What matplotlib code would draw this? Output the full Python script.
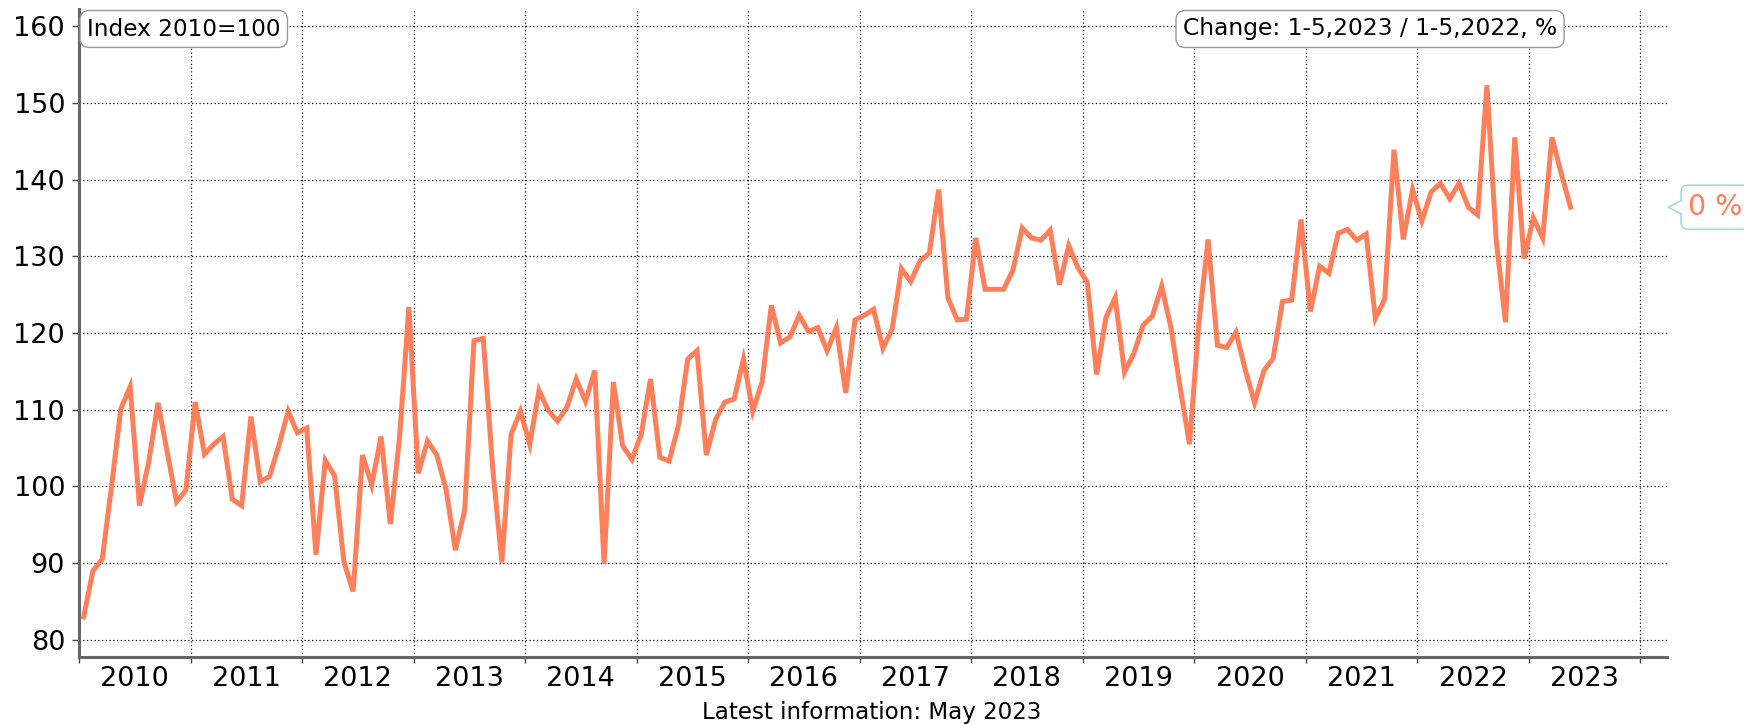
import matplotlib
matplotlib.use("Agg")
import matplotlib.pyplot as plt
from matplotlib.patches import FancyBboxPatch, Polygon
from matplotlib.transforms import IdentityTransform
import numpy as np

# ---- data ----
start_year = 2010
values_2010 = [83.0, 89.0, 90.5, 100.0, 110.1, 113.0, 97.5, 103.2, 110.9, 104.4, 98.0, 99.5]
values_2011 = [111.0, 104.2, 105.5, 106.5, 98.3, 97.5, 109.1, 100.6, 101.3, 105.3, 109.8, 107.0]
values_2012 = [107.6, 91.1, 103.4, 101.4, 90.2, 86.3, 104.1, 100.2, 106.5, 95.1, 106.5, 123.4]
values_2013 = [101.7, 105.9, 104.1, 99.6, 91.7, 96.9, 119.0, 119.3, 102.6, 90.1, 106.8, 109.8]
values_2014 = [105.5, 112.5, 109.9, 108.5, 110.3, 114.0, 111.1, 115.1, 89.9, 113.6, 105.3, 103.5]
values_2015 = [106.8, 114.0, 103.8, 103.3, 107.9, 116.6, 117.7, 104.1, 108.7, 111.0, 111.4, 116.6]
values_2016 = [109.8, 113.6, 123.6, 118.7, 119.5, 122.3, 120.2, 120.7, 117.7, 120.7, 112.2, 121.7]
values_2017 = [122.3, 123.1, 118.0, 120.5, 128.4, 126.7, 129.4, 130.4, 138.7, 124.6, 121.7, 121.8]
values_2018 = [132.4, 125.7, 125.7, 125.7, 128.2, 133.7, 132.4, 132.1, 133.4, 126.3, 131.4, 128.5]
values_2019 = [126.6, 114.6, 122.0, 124.6, 114.9, 117.3, 121.0, 122.2, 126.1, 120.7, 112.8, 105.5]
values_2020 = [121.3, 132.2, 118.4, 118.1, 120.1, 115.2, 110.9, 115.1, 116.7, 124.1, 124.3, 134.8]
values_2021 = [122.8, 128.7, 127.8, 133.0, 133.5, 132.1, 132.9, 121.9, 124.4, 143.9, 132.2, 138.7]
values_2022 = [134.6, 138.4, 139.5, 137.5, 139.5, 136.4, 135.4, 152.3, 132.1, 121.4, 145.5, 129.7]
values_2023 = [135.0, 132.4, 145.5, 140.8, 136.4]

years = list(range(2010, 2024))
year_labels = [str(y) for y in years]
y_ticks = [80, 90, 100, 110, 120, 130, 140, 150, 160]

index_label = "Index 2010=100"
change_label = "Change: 1-5,2023 / 1-5,2022, %"
change_value = "0 %"
footer = "Latest information: May 2023"

values = (values_2010 + values_2011 + values_2012 + values_2013 + values_2014 +
          values_2015 + values_2016 + values_2017 + values_2018 + values_2019 +
          values_2020 + values_2021 + values_2022 + values_2023)
x = np.array([start_year + (i + 0.5) / 12.0 for i in range(len(values))])

# ---- style ----
line_color = "#ff7f5a"
plt.rcParams["font.family"] = ["DejaVu Sans"]

W, H = 1744, 724
fig = plt.figure(figsize=(W / 100, H / 100), dpi=100)
ax = fig.add_axes([79 / W, 1 - 656.7 / H, 1588 / W, (656.7 - 9.3) / H])

ax.plot(x, values, color=line_color, lw=3.6, solid_joinstyle="miter", zorder=3)

ax.set_xlim(2010.0, 2024.24)
ax.set_ylim(77.8, 162.2)

# ticks
ax.set_xticks(list(range(2010, 2025)))
ax.set_xticklabels([])
ax.set_xticks([y + 0.5 for y in years], minor=True)
ax.set_xticklabels(year_labels, minor=True, fontsize=19.5)
ax.tick_params(axis="x", which="major", length=4, width=1, color="#444", direction="out")
ax.tick_params(axis="x", which="minor", length=0, pad=7)
ax.set_yticks(y_ticks)
ax.set_yticklabels([str(v) for v in y_ticks], fontsize=19.5)
ax.tick_params(axis="y", length=5, width=1, color="#444", pad=5)

ax.grid(True, which="major", color="black", lw=0.9, linestyle=(0, (1, 2)))

for s in ["top", "right"]:
    ax.spines[s].set_visible(False)
for s in ["left", "bottom"]:
    ax.spines[s].set_color("#666666")
    ax.spines[s].set_linewidth(2.2)

# boxes
box_style = dict(boxstyle="round,pad=0.3,rounding_size=0.4", fc="white", ec="#9a9a9a", lw=1)
fig.text(87 / W, 1 - 29 / H, index_label, fontsize=16.7, ha="left", va="center",
         bbox=box_style, zorder=5)
fig.text(1183 / W, 1 - 29 / H, change_label, fontsize=16.8, ha="left", va="center",
         bbox=box_style, zorder=5)

fig.text(0.5, 1 - 712 / H, footer, fontsize=16.6, ha="center", va="center")

# callout at the last value
tipx, tipy = ax.transData.transform((2024.24, values[-1]))
tipx += 1
box_left = tipx + 13
edge_c = "#a9d8e8"
callout = FancyBboxPatch((box_left, tipy - 22), 120, 44,
                         boxstyle="round,pad=0,rounding_size=7",
                         fc="white", ec=edge_c, lw=1.2,
                         transform=IdentityTransform(), zorder=6)
fig.add_artist(callout)
pointer = Polygon([[box_left + 1, tipy + 7], [tipx, tipy], [box_left + 1, tipy - 7]],
                  closed=False, fc="white", ec=edge_c, lw=1.2,
                  transform=IdentityTransform(), zorder=7)
fig.add_artist(pointer)
fig.text(box_left + 7, tipy, change_value, fontsize=20.5, color=line_color,
         ha="left", va="center", transform=IdentityTransform(), zorder=8)

fig.savefig("out.png", dpi=100)
